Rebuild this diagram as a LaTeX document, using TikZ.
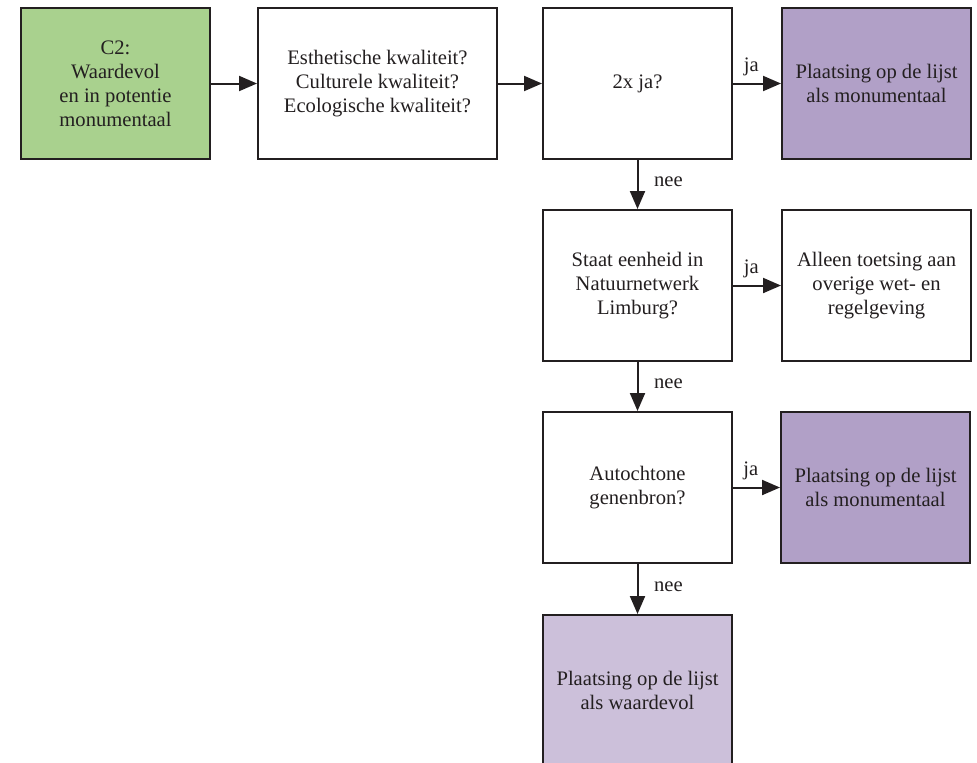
\documentclass[tikz,border=0pt]{standalone}
\usepackage{fontspec}
\setmainfont{Liberation Serif}
\definecolor{lijn}{RGB}{35, 31, 32}
\definecolor{groen}{RGB}{169, 209, 142}
\definecolor{paars}{RGB}{177, 160, 199}
\definecolor{lichtpaars}{RGB}{204, 192, 218}
\usetikzlibrary{arrows.meta, positioning}
\tikzset{
    box/.style={
        rectangle, draw=lijn, fill=#1, text=lijn,
        minimum width=94.5pt, minimum height=75.5pt,
        font=\fontsize{10.3}{12}\selectfont, align=center, line width=1pt
    },
    box/.default=white,
    arrow/.style={-{Triangle[length=9pt, width=7.5pt]}, line width=1pt, draw=lijn},
    lbl/.style={font=\fontsize{10.3}{12}\selectfont, text=lijn}
}

\begin{document}
\begin{tikzpicture}[node distance=24.5pt and 23pt]
    \useasboundingbox (0,0) rectangle (488.5pt,-381pt);

    % Row 1
    \node[box=groen] (c2) at (57.75pt,-41.75pt) {C2:\\Waardevol\\en in potentie\\monumentaal};
    \node[box, minimum width=119.5pt, right=of c2] (kwal) {Esthetische kwaliteit?\\Culturele kwaliteit?\\Ecologische kwaliteit?};
    \node[box, right=22pt of kwal] (tweeja) {2x ja?};
    \node[box=paars, right=24pt of tweeja] (mon1) {Plaatsing op de lijst\\als monumentaal};

    % Column down
    \node[box, below=of tweeja] (nnl) {Staat eenheid in\\Natuurnetwerk\\Limburg?};
    \node[box, right=24pt of nnl] (toets) {Alleen toetsing aan\\overige wet- en\\regelgeving};
    \node[box, below=of nnl] (auto) {Autochtone\\genenbron?};
    \node[box=paars, right=23.5pt of auto] (mon2) {Plaatsing op de lijst\\als monumentaal};
    \node[box=lichtpaars, below=25pt of auto] (waard) {Plaatsing op de lijst\\als waardevol};

    % Arrows
    \draw[arrow] (c2) -- (kwal);
    \draw[arrow] (kwal) -- (tweeja);
    \draw[arrow] (tweeja) -- node[lbl, above=0pt, pos=0.38] {ja} (mon1);
    \draw[arrow] (tweeja) -- node[lbl, right=4.5pt, pos=0.45] {nee} (nnl);
    \draw[arrow] (nnl) -- node[lbl, above=0pt, pos=0.38] {ja} (toets);
    \draw[arrow] (nnl) -- node[lbl, right=4.5pt, pos=0.45] {nee} (auto);
    \draw[arrow] (auto) -- node[lbl, above=0pt, pos=0.38] {ja} (mon2);
    \draw[arrow] (auto) -- node[lbl, right=4.5pt, pos=0.45] {nee} (waard);

\end{tikzpicture}
\end{document}
